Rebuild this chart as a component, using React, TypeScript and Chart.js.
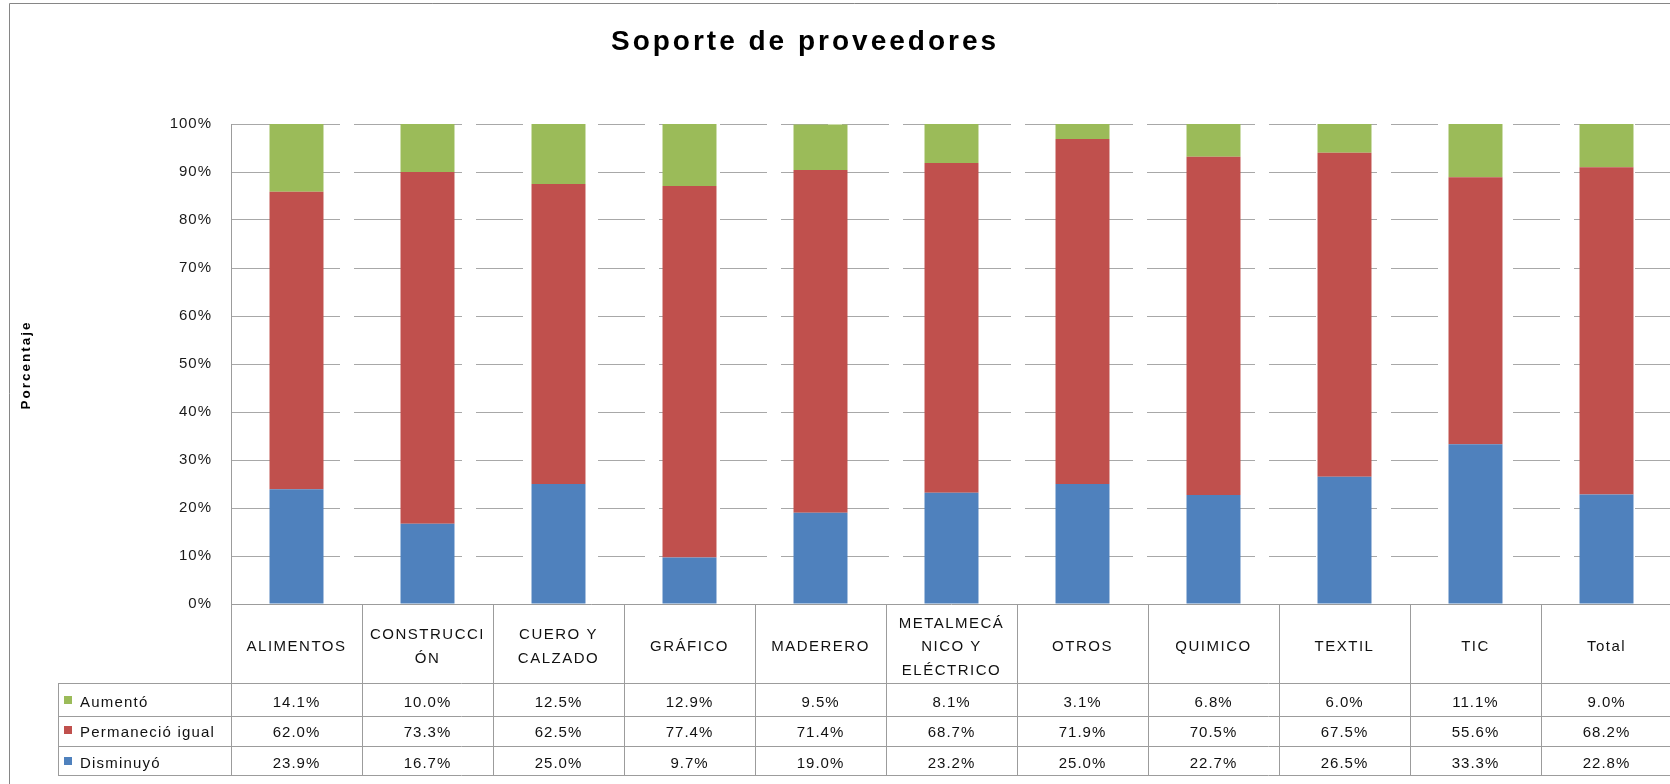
import React, { useEffect, useRef } from "react";
import { Chart, registerables } from "chart.js";

Chart.register(...registerables);

const categories = [
  "ALIMENTOS",
  "CONSTRUCCIÓN",
  "CUERO Y CALZADO",
  "GRÁFICO",
  "MADERERO",
  "METALMECÁNICO Y ELÉCTRICO",
  "OTROS",
  "QUIMICO",
  "TEXTIL",
  "TIC",
  "Total",
];
const headerLines = [
  ["ALIMENTOS"],
  ["CONSTRUCCI", "ÓN"],
  ["CUERO Y", "CALZADO"],
  ["GRÁFICO"],
  ["MADERERO"],
  ["METALMECÁ", "NICO Y", "ELÉCTRICO"],
  ["OTROS"],
  ["QUIMICO"],
  ["TEXTIL"],
  ["TIC"],
  ["Total"],
];
const aumento = [14.1, 10.0, 12.5, 12.9, 9.5, 8.1, 3.1, 6.8, 6.0, 11.1, 9.0];
const permanecio = [62.0, 73.3, 62.5, 77.4, 71.4, 68.7, 71.9, 70.5, 67.5, 55.6, 68.2];
const disminuyo = [23.9, 16.7, 25.0, 9.7, 19.0, 23.2, 25.0, 22.7, 26.5, 33.3, 22.8];
const seriesNames = ["Aumentó", "Permaneció igual", "Disminuyó"];
const seriesColors = ["#9BBB59", "#C0504D", "#4F81BD"];
const titleText = "Soporte de proveedores";
const yTitleText = "Porcentaje";

const FONT = "'Liberation Sans', Arial, sans-serif";

const tablePlugin = {
  id: "tablePlugin",
  beforeDraw(chart: any) {
    (chart.ctx as any).letterSpacing = "1px";
  },
  afterDraw(chart: any) {
    const ctx = chart.ctx as CanvasRenderingContext2D & { letterSpacing: string };
    const area = chart.chartArea;
    const n = categories.length;
    const left = area.left;
    const right = area.right;
    const colW = (right - left) / n;
    const xs = chart.scales.x;
    const top = area.bottom;
    const headBottom = 683;
    const rowBottoms = [716, 746, 775];
    const baselines = [707, 737, 768];
    const labelLeft = 58;
    const rows = [aumento, permanecio, disminuyo];

    ctx.save();
    // frame
    ctx.strokeStyle = "#868686";
    ctx.lineWidth = 1;
    ctx.beginPath();
    ctx.moveTo(9.5, 784);
    ctx.lineTo(9.5, 3.5);
    ctx.lineTo(chart.width, 3.5);
    ctx.stroke();

    // table lines
    ctx.strokeStyle = "#9c9c9c";
    ctx.beginPath();
    for (let i = 0; i <= n; i++) {
      const x = Math.round(left + i * colW) + 0.5;
      ctx.moveTo(x, top);
      ctx.lineTo(x, rowBottoms[2]);
    }
    ctx.moveTo(left, top + 0.5);
    ctx.lineTo(right, top + 0.5);
    const hy = [headBottom, ...rowBottoms];
    hy.forEach((y) => {
      ctx.moveTo(labelLeft, y + 0.5);
      ctx.lineTo(right, y + 0.5);
    });
    ctx.moveTo(labelLeft + 0.5, headBottom);
    ctx.lineTo(labelLeft + 0.5, rowBottoms[2]);
    ctx.stroke();

    // header text
    ctx.fillStyle = "#111";
    ctx.textAlign = "center";
    ctx.textBaseline = "alphabetic";
    ctx.font = `15px ${FONT}`;
    ctx.letterSpacing = "1.5px";
    headerLines.forEach((lines, i) => {
      const cx = xs.getPixelForValue(i);
      lines.forEach((t, j) => {
        const y = 651 + (j - (lines.length - 1) / 2) * 23.5;
        ctx.fillText(t, cx, y);
      });
    });

    // values
    ctx.letterSpacing = "1px";
    rows.forEach((vals, r) => {
      vals.forEach((v, i) => {
        const cx = xs.getPixelForValue(i);
        ctx.fillText(v.toFixed(1) + "%", cx, baselines[r]);
      });
    });

    // row labels
    ctx.textAlign = "left";
    ctx.letterSpacing = "1.2px";
    seriesNames.forEach((name, r) => {
      ctx.fillStyle = seriesColors[r];
      ctx.fillRect(64, baselines[r] - 11, 8, 8);
      ctx.fillStyle = "#111";
      ctx.fillText(name, 80, baselines[r]);
    });

    // title
    ctx.textAlign = "center";
    ctx.textBaseline = "alphabetic";
    ctx.font = `bold 28px ${FONT}`;
    ctx.letterSpacing = "3px";
    ctx.fillStyle = "#000";
    ctx.fillText(titleText, 805, 50);

    // y title
    ctx.save();
    ctx.translate(30, 365);
    ctx.rotate(-Math.PI / 2);
    ctx.font = `bold 13.5px ${FONT}`;
    ctx.letterSpacing = "2px";
    ctx.textBaseline = "alphabetic";
    ctx.fillText(yTitleText, 0, 0);
    ctx.restore();

    ctx.restore();
    ctx.letterSpacing = "0px";
  },
};

export default function App() {
  const ref = useRef<HTMLCanvasElement | null>(null);
  useEffect(() => {
    document.body.style.margin = "0";
    const canvas = ref.current!;
    const chart = new Chart(canvas, {
      type: "bar",
      data: {
        labels: categories,
        datasets: [
          { label: seriesNames[2], data: disminuyo, backgroundColor: seriesColors[2] },
          { label: seriesNames[1], data: permanecio, backgroundColor: seriesColors[1] },
          { label: seriesNames[0], data: aumento, backgroundColor: seriesColors[0] },
        ],
      },
      options: {
        responsive: false,
        animation: false,
        devicePixelRatio: 1,
        layout: { padding: { left: 0, top: 124, right: 28, bottom: 180 } },
        datasets: { bar: { barPercentage: 0.412, categoryPercentage: 1 } },
        plugins: { legend: { display: false }, tooltip: { enabled: false }, title: { display: false } },
        scales: {
          x: { stacked: true, display: false },
          y: {
            stacked: true,
            min: 0,
            max: 100,
            afterFit: (scale: any) => {
              scale.width = 231;
            },
            ticks: {
              stepSize: 10,
              padding: 19,
              color: "#1a1a1a",
              font: { family: FONT, size: 15 },
              callback: (v: any) => v + "%",
            },
            grid: { color: "#a8a8a8", lineWidth: 1, drawTicks: false },
            border: { display: true, color: "#9c9c9c", width: 1, dash: [47, 14] },
          },
        },
      },
      plugins: [tablePlugin],
    });
    return () => chart.destroy();
  }, []);
  return (
    <div style={{ position: "fixed", left: 0, top: 0, width: 1670, height: 784, overflow: "hidden", background: "#fff" }}>
      <canvas ref={ref} width={1700} height={784} style={{ display: "block" }} />
    </div>
  );
}
